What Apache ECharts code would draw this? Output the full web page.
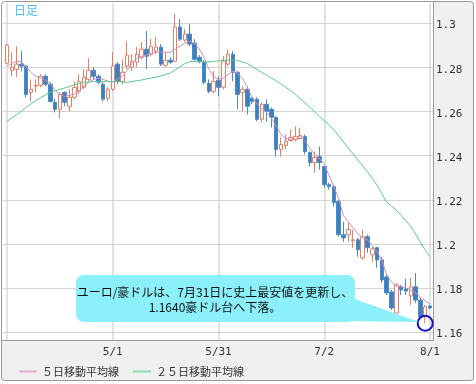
<!DOCTYPE html>
<html><head><meta charset="utf-8">
<script src="https://cdn.jsdelivr.net/npm/echarts@6/dist/echarts.min.js"></script>
<style>html,body{margin:0;padding:0;background:#fff}#c{width:476px;height:384px}</style>
</head><body><div id="c"></div>
<script>
const dates = ['3/30','4/2','4/3','4/4','4/5','4/6','4/9','4/10','4/11','4/12','4/13','4/16','4/17','4/18','4/19','4/20','4/23','4/24','4/25','4/26','4/27','4/30',
'5/1','5/2','5/3','5/4','5/7','5/8','5/9','5/10','5/11','5/14','5/15','5/16','5/17','5/18','5/21','5/22','5/23','5/24','5/25','5/28','5/29','5/30',
'5/31','6/1','6/4','6/5','6/6','6/7','6/8','6/11','6/12','6/13','6/14','6/15','6/18','6/19','6/20','6/21','6/22','6/25','6/26','6/27','6/28','6/29',
'7/2','7/3','7/4','7/5','7/6','7/9','7/10','7/11','7/12','7/13','7/16','7/17','7/18','7/19','7/20','7/23','7/24','7/25','7/26','7/27','7/30','7/31','8/1'];
const openV = [1.2818,1.2786,1.2791,1.2814,1.2805,1.2686,1.2714,1.2718,1.2759,1.2723,1.2641,1.2609,1.2686,1.2623,1.2664,1.2691,1.2709,1.2745,1.2786,1.2759,1.2723,1.2659,
1.2700,1.2814,1.2736,1.2805,1.2800,1.2823,1.2845,1.2882,1.2859,1.2873,1.2891,1.2809,1.2832,1.2827,1.2982,1.2923,1.2950,1.2909,1.2845,1.2823,1.2727,1.2691,
1.2741,1.2709,1.2814,1.2859,1.2777,1.2686,1.2700,1.2659,1.2655,1.2564,1.2632,1.2609,1.2573,1.2427,1.2445,1.2468,1.2473,1.2477,1.2486,1.2414,1.2368,1.2395,
1.2350,1.2268,1.2259,1.2191,1.2041,1.2041,1.2014,1.2018,1.1936,1.2032,1.1950,1.1982,1.1927,1.1850,1.1782,1.1686,1.1805,1.1795,1.1764,1.1805,1.1745,1.1668,1.1718];
const closeV = [1.2900,1.2800,1.2814,1.2805,1.2677,1.2700,1.2718,1.2759,1.2723,1.2645,1.2609,1.2677,1.2641,1.2664,1.2709,1.2736,1.2755,1.2786,1.2759,1.2732,1.2655,1.2700,
1.2805,1.2736,1.2777,1.2855,1.2827,1.2859,1.2882,1.2850,1.2895,1.2891,1.2814,1.2832,1.2823,1.2982,1.2927,1.2950,1.2905,1.2836,1.2827,1.2732,1.2691,1.2736,
1.2709,1.2827,1.2859,1.2777,1.2677,1.2700,1.2623,1.2645,1.2564,1.2632,1.2600,1.2573,1.2427,1.2450,1.2464,1.2482,1.2486,1.2491,1.2418,1.2368,1.2391,1.2368,
1.2268,1.2259,1.2186,1.2041,1.2027,1.2064,1.2018,1.1973,1.2032,1.1982,1.1977,1.1927,1.1836,1.1777,1.1709,1.1814,1.1791,1.1786,1.1805,1.1745,1.1668,1.1714,1.1709];
const lowV = [1.2814,1.2759,1.2755,1.2782,1.2664,1.2645,1.2686,1.2709,1.2714,1.2641,1.2595,1.2568,1.2623,1.2600,1.2655,1.2677,1.2700,1.2736,1.2745,1.2723,1.2645,1.2645,
1.2691,1.2723,1.2723,1.2791,1.2782,1.2800,1.2836,1.2791,1.2850,1.2859,1.2805,1.2800,1.2814,1.2823,1.2918,1.2914,1.2895,1.2827,1.2818,1.2723,1.2682,1.2682,
1.2668,1.2700,1.2805,1.2736,1.2609,1.2600,1.2586,1.2632,1.2555,1.2550,1.2555,1.2527,1.2395,1.2395,1.2427,1.2464,1.2464,1.2473,1.2405,1.2350,1.2323,1.2336,
1.2255,1.2245,1.2168,1.2032,1.2009,1.2009,1.1982,1.1941,1.1927,1.1959,1.1918,1.1891,1.1823,1.1768,1.1700,1.1686,1.1768,1.1768,1.1723,1.1732,1.1664,1.1641,1.1705];
const highV = [1.2905,1.2868,1.2895,1.2873,1.2809,1.2745,1.2745,1.2768,1.2768,1.2732,1.2655,1.2686,1.2691,1.2700,1.2736,1.2768,1.2791,1.2841,1.2800,1.2768,1.2732,1.2709,
1.2868,1.2823,1.2836,1.2918,1.2859,1.2891,1.2914,1.2964,1.2927,1.2936,1.2905,1.2868,1.2845,1.3041,1.3018,1.2973,1.2995,1.2927,1.2855,1.2832,1.2745,1.2782,
1.2759,1.2850,1.2882,1.2873,1.2782,1.2714,1.2714,1.2668,1.2664,1.2641,1.2655,1.2618,1.2577,1.2482,1.2495,1.2518,1.2532,1.2527,1.2495,1.2418,1.2418,1.2441,
1.2359,1.2277,1.2268,1.2200,1.2100,1.2095,1.2064,1.2027,1.2064,1.2041,1.1986,1.1986,1.1941,1.1859,1.1791,1.1823,1.1814,1.1841,1.1845,1.1868,1.1755,1.1723,1.1723];
const ma5 = [1.2805,1.2818,1.2827,1.2827,1.2800,1.2777,1.2759,1.2750,1.2741,1.2727,1.2695,1.2677,1.2668,1.2673,1.2677,1.2695,1.2714,1.2732,1.2745,1.2750,1.2745,1.2736,
1.2732,1.2745,1.2759,1.2786,1.2818,1.2841,1.2850,1.2855,1.2864,1.2868,1.2868,1.2868,1.2868,1.2882,1.2895,1.2909,1.2918,1.2909,1.2882,1.2845,1.2791,1.2759,
1.2745,1.2750,1.2768,1.2782,1.2773,1.2750,1.2709,1.2664,1.2632,1.2614,1.2595,1.2568,1.2536,1.2495,1.2477,1.2473,1.2473,1.2486,1.2468,1.2432,1.2405,1.2386,
1.2359,1.2309,1.2259,1.2205,1.2127,1.2100,1.2073,1.2045,1.2027,1.2018,1.1991,1.1964,1.1923,1.1859,1.1827,1.1809,1.1805,1.1800,1.1791,1.1777,1.1759,1.1741,1.1727];
const ma25 = [1.2554,1.2570,1.2585,1.2601,1.2618,1.2634,1.2649,1.2662,1.2675,1.2687,1.2693,1.2700,1.2706,1.2713,1.2720,1.2726,1.2732,1.2733,1.2735,1.2736,1.2736,1.2736,
1.2736,1.2735,1.2733,1.2732,1.2735,1.2739,1.2742,1.2747,1.2751,1.2755,1.2760,1.2767,1.2774,1.2788,1.2802,1.2816,1.2825,1.2827,1.2825,1.2824,1.2824,1.2826,
1.2829,1.2832,1.2832,1.2832,1.2831,1.2824,1.2817,1.2804,1.2790,1.2777,1.2764,1.2751,1.2739,1.2724,1.2709,1.2694,1.2677,1.2657,1.2638,1.2619,1.2599,1.2578,
1.2558,1.2540,1.2516,1.2489,1.2461,1.2434,1.2407,1.2380,1.2353,1.2326,1.2296,1.2265,1.2227,1.2188,1.2170,1.2152,1.2129,1.2104,1.2079,1.2044,1.2008,1.1972,1.1941];
const yTicks = [1.16,1.18,1.2,1.22,1.24,1.26,1.28,1.3];
const seriesNames = ['５日移動平均線','２５日移動平均線'];
const titleText = '日足';
const noteLines = ['ユーロ/豪ドルは、7月31日に史上最安値を更新し、','1.1640豪ドル台へ下落。'];
const lowPoint = ['7/31', 1.1640];

const Y_MIN = 1.1564, Y_MAX = 1.3091;
const GRID_TOP = 3, GRID_BOTTOM = 44, H = 384;
const candles = dates.map((d,i)=>[openV[i],closeV[i],lowV[i],highV[i]]);
const mono = '"DejaVu Sans Mono", monospace';
const cjk = '"Noto Sans CJK JP", sans-serif';

const staticGraphics = [
  {id:'pr', type:'rect', z:-10, shape:{x:433, y:2, width:41, height:339}, style:{fill:'#f0f0f0'}},
  {id:'pb', type:'rect', z:-10, shape:{x:2, y:340, width:472, height:41}, style:{fill:'#f0f0f0'}},
  {id:'sv', type:'line', z:-9, shape:{x1:433.5, y1:2, x2:433.5, y2:341}, style:{stroke:'#9a9a9a', lineWidth:1}},
  {id:'sh', type:'line', z:-9, shape:{x1:2, y1:340.5, x2:434, y2:340.5}, style:{stroke:'#9a9a9a', lineWidth:1}},
  {id:'ob', type:'rect', z:50, shape:{x:1.5, y:1.5, width:472, height:379, r:3}, style:{fill:'none', stroke:'#999', lineWidth:1}},
  {id:'tt', type:'text', z:50, x:14, y:4, style:{text:titleText, fill:'#4cc2ee', font:'12px '+cjk}},
  {id:'note', type:'group', z:60, children:[
    {type:'polygon', z:60, shape:{points:[[352,298],[338,321],[419,322]]}, style:{fill:'#8cf0fa'}},
    {type:'rect', z:60, shape:{x:76, y:275, width:279, height:47, r:8}, style:{fill:'#8cf0fa'}},
    {type:'text', z:61, x:215, y:292, style:{text:noteLines[0], fill:'#111', font:'12px '+cjk, align:'center', verticalAlign:'middle'}},
    {type:'text', z:61, x:215, y:307, style:{text:noteLines[1], fill:'#111', font:'12px '+cjk, align:'center', verticalAlign:'middle'}}
  ]}
];

const chart = echarts.init(document.getElementById('c'), null, {renderer:'canvas'});
chart.setOption({
  animation:false,
  grid:[{left:7, right:46, top:GRID_TOP, bottom:GRID_BOTTOM}],
  xAxis:[
    {type:'category', data:dates, boundaryGap:false,
     axisLine:{show:false}, axisTick:{show:false},
     axisLabel:{interval:(i)=>i%22===0 && i>0, margin:7, color:'#333', fontSize:11, fontFamily:mono},
     splitLine:{show:true, interval:(i)=>i%22===0, lineStyle:{color:'#e2e2e2', width:2}}}
  ],
  yAxis:[
    {type:'value', position:'right', offset:3, min:Y_MIN, max:Y_MAX,
     axisLine:{show:false}, axisTick:{show:false},
     axisLabel:{customValues:yTicks, margin:3, color:'#333', fontSize:11, fontFamily:mono,
       verticalAlign:'top', lineHeight:5},
     splitLine:{show:false}}
  ],
  legend:{data:seriesNames, left:14, top:361, itemWidth:18, itemHeight:2, itemGap:14, icon:'rect',
    textStyle:{color:'#333', fontSize:11, fontFamily:cjk}},
  series:[
    {type:'candlestick', data:candles, barWidth:4, clip:false, z:3,
     itemStyle:{color:'#ffffff', color0:'#3e7fbf', borderColor:'#e57f68', borderColor0:'#4d8bc8', borderWidth:1},
     markPoint:{symbol:'circle', symbolSize:15, silent:true, label:{show:false},
       itemStyle:{color:'rgba(0,0,0,0)', borderColor:'#1818c8', borderWidth:2},
       data:[{coord:lowPoint}]}},
    {type:'line', name:seriesNames[0], data:ma5, symbol:'none', z:4,
     lineStyle:{width:1, color:'#d28fb4'}, itemStyle:{color:'#e4acc8'}},
    {type:'line', name:seriesNames[1], data:ma25, symbol:'none', z:4,
     lineStyle:{width:1, color:'#55c991'}, itemStyle:{color:'#8adcb8'}}
  ],
  graphic: staticGraphics
});

// horizontal grid lines at the tick values, positioned through the axis scale
function tickY(v){
  let y = NaN;
  try { y = Number(chart.convertToPixel({yAxisIndex:0}, v)); } catch(e) {}
  if (!isFinite(y)) {
    const h = H - GRID_TOP - GRID_BOTTOM;
    y = GRID_TOP + (Y_MAX - v) / (Y_MAX - Y_MIN) * h;
  }
  return Math.round(y) + 0.5;
}
const gridLines = yTicks.map((v, k) => ({
  id:'gl'+k, type:'line', z:1, silent:true,
  shape:{x1:3, y1:tickY(v), x2:433, y2:tickY(v)}, style:{stroke:'#d4d4d4', lineWidth:1}
}));
chart.setOption({graphic: gridLines});
</script></body></html>
